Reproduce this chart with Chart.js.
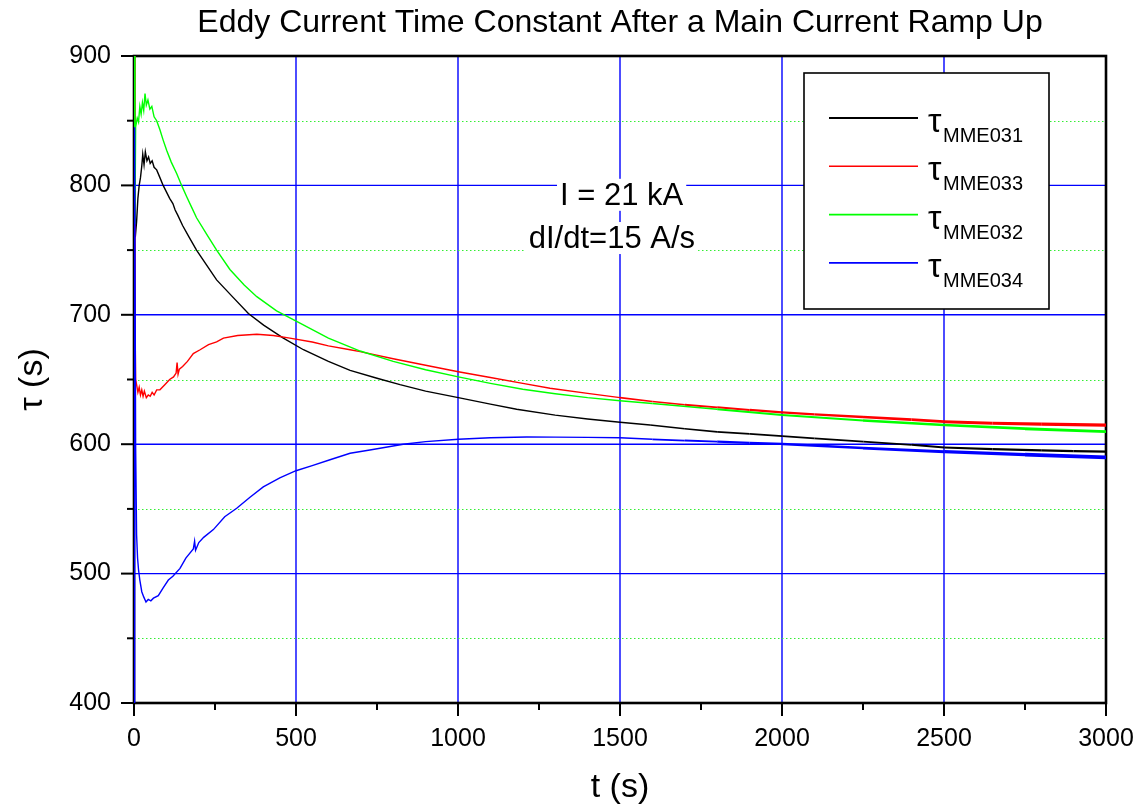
<!DOCTYPE html>
<html>
<head>
<meta charset="utf-8">
<title>Eddy Current Time Constant</title>
<script src="https://cdn.jsdelivr.net/npm/chart.js@4.4.0/dist/chart.umd.min.js"></script>
<style>
  html, body { margin: 0; padding: 0; background: #ffffff; }
  #wrap { width: 1142px; height: 811px; }
</style>
</head>
<body>
<div id="wrap"><canvas id="tauChart" width="1142" height="811"></canvas></div>
<script>
// values: t in s, tau in s
var t_031   = [0, 4, 8, 12, 16, 20, 24, 27, 31, 35, 40, 45, 50, 56, 62, 70, 80, 90, 100, 110, 120, 127, 135, 150, 170, 193, 220, 255, 300, 353, 400, 461, 523, 600, 667, 750, 821, 900, 1001, 1100, 1181, 1300, 1400, 1500, 1593, 1700, 1800, 1900, 2001, 2100, 2251, 2400, 2501, 2650, 2800, 2900, 3000];
var tau_031 = [905, 760, 772, 790, 800, 806, 815, 824, 816, 826, 819, 822, 817, 819, 814, 812, 806, 800, 795, 790, 786, 781, 777, 769, 760, 750, 740, 727, 715, 701, 692, 682, 673, 664, 657, 651, 646, 641, 636, 631, 627, 622.5, 619.5, 617, 614.8, 612, 609.5, 608, 606.3, 604.5, 602, 599.5, 597.5, 596.2, 595.2, 594.7, 594.2];

var t_033   = [0, 3, 5, 8, 12, 16, 20, 24, 28, 32, 38, 44, 50, 56, 62, 70, 80, 95, 110, 122, 130, 133, 136, 140, 150, 165, 183, 204, 230, 255, 276, 320, 379, 430, 481, 550, 600, 667, 698, 800, 900, 1001, 1100, 1200, 1284, 1400, 1500, 1600, 1700, 1800, 1900, 2000, 2100, 2250, 2400, 2500, 2650, 2800, 3000];
var tau_033 = [910, 700, 650, 646, 640, 644, 638, 642, 637, 641, 636, 638, 637, 640, 638, 642, 642, 646, 650, 652, 655, 663, 654, 658, 660, 664, 670, 673, 677, 679, 682, 684, 685, 684, 682, 679, 676, 673, 671.5, 666, 661, 656, 651.5, 647, 643.2, 639.3, 636, 633, 630.5, 628.5, 626.5, 624.6, 623, 621, 619, 617.4, 616.2, 615.5, 614.8];

var t_032   = [0, 3, 5, 10, 14, 18, 22, 26, 30, 34, 38, 43, 49, 55, 62, 70, 80, 90, 101, 115, 132, 147, 163, 178, 193, 225, 255, 296, 340, 379, 440, 502, 600, 698, 800, 900, 1001, 1100, 1200, 1300, 1400, 1500, 1600, 1800, 2000, 2250, 2500, 2750, 3000];
var tau_032 = [910, 770, 845, 852, 849, 861, 855, 864, 858, 871, 862, 866, 859, 861, 853, 850, 843, 835, 827, 818, 809, 800, 791, 783, 775, 762, 750, 735, 723, 714, 703, 695, 682, 672, 664, 657.5, 652, 647, 642.5, 639, 636, 633.6, 631.5, 627, 622.6, 618.3, 614.8, 612, 609.7];

var t_034   = [0, 2, 5, 8, 11, 14, 18, 24, 30, 37, 44, 52, 60, 75, 90, 106, 120, 142, 160, 183, 187, 190, 200, 215, 245, 280, 317, 358, 399, 450, 500, 550, 605, 667, 728, 831, 900, 1001, 1100, 1212, 1300, 1400, 1500, 1600, 1700, 1800, 1900, 2001, 2250, 2501, 2750, 3000];
var tau_034 = [400, 845, 600, 530, 512, 503, 495, 486, 482, 478, 480, 479, 481, 483, 489, 495, 498, 504, 512, 519, 525, 518, 524, 528, 534, 544, 550.5, 559, 567, 574, 579.5, 583.5, 588, 593, 595.5, 600, 602, 603.8, 605, 605.6, 605.5, 605.3, 605, 603.8, 602.8, 602, 601, 600.2, 597, 594.2, 592, 589.9];

var series_names = ['MME031', 'MME033', 'MME032', 'MME034'];
var series_colors = ['#000000', '#ff0000', '#00ff00', '#0000ff'];

// axis ticks
var t_major = [0, 500, 1000, 1500, 2000, 2500, 3000];
var t_minor = [250, 750, 1250, 1750, 2250, 2750];
var tau_major = [400, 500, 600, 700, 800, 900];
var tau_minor = [450, 550, 650, 750, 850];

var notes = ['I = 21 kA', 'dI/dt=15 A/s'];

var FONT = "'Liberation Sans', Arial, Helvetica, sans-serif";

function pairs(ts, vs) {
  var out = [];
  for (var i = 0; i < ts.length; i++) out.push({ x: ts[i], y: vs[i] });
  return out;
}

// noise band gets wider towards the end of the run
function bandWidth(maxW) {
  return function(ctx) {
    var t = ctx.p0.parsed.x;
    if (t < 1400) return 1.4;
    return 1.4 + (maxW - 1.4) * Math.min(1, (t - 1400) / 1600);
  };
}

var all_t = [t_031, t_033, t_032, t_034];
var all_tau = [tau_031, tau_033, tau_032, tau_034];
var band = [2.4, 3.6, 3.2, 4.2];
var draw_order = [3, 2, 1, 0];

var datasets = [];
for (var k = 0; k < 4; k++) {
  datasets.push({
    label: series_names[k],
    data: pairs(all_t[k], all_tau[k]),
    borderColor: series_colors[k],
    borderWidth: 1.4,
    pointRadius: 0,
    fill: false,
    tension: 0,
    order: draw_order[k],
    segment: { borderWidth: bandWidth(band[k]) }
  });
}

var framePlugin = {
  id: 'frame',
  beforeDatasetsDraw: function(chart) {
    var ctx = chart.ctx, a = chart.chartArea;
    var xs = chart.scales.x, ys = chart.scales.y;
    ctx.save();
    // major grid, solid blue
    ctx.strokeStyle = '#0000ff';
    ctx.lineWidth = 1.4;
    tau_major.forEach(function(v) {
      var y = ys.getPixelForValue(v);
      ctx.beginPath(); ctx.moveTo(a.left, y); ctx.lineTo(a.right, y); ctx.stroke();
    });
    t_major.forEach(function(v) {
      var x = xs.getPixelForValue(v);
      ctx.beginPath(); ctx.moveTo(x, a.top); ctx.lineTo(x, a.bottom); ctx.stroke();
    });
    // dotted minor grid
    ctx.strokeStyle = '#33ee33';
    ctx.lineWidth = 1.2;
    ctx.setLineDash([1.5, 2.5]);
    tau_minor.forEach(function(v) {
      var y = Math.round(ys.getPixelForValue(v)) + 0.5;
      ctx.beginPath(); ctx.moveTo(a.left, y); ctx.lineTo(a.right, y); ctx.stroke();
    });
    ctx.setLineDash([]);
    // frame
    ctx.strokeStyle = '#000000';
    ctx.lineWidth = 2.6;
    ctx.strokeRect(a.left, a.top, a.right - a.left, a.bottom - a.top);
    // tick marks
    ctx.lineWidth = 2;
    tau_major.forEach(function(v) {
      var y = ys.getPixelForValue(v);
      ctx.beginPath(); ctx.moveTo(a.left - 13, y); ctx.lineTo(a.left, y); ctx.stroke();
    });
    tau_minor.forEach(function(v) {
      var y = ys.getPixelForValue(v);
      ctx.beginPath(); ctx.moveTo(a.left - 7, y); ctx.lineTo(a.left, y); ctx.stroke();
    });
    t_major.forEach(function(v) {
      var x = xs.getPixelForValue(v);
      ctx.beginPath(); ctx.moveTo(x, a.bottom - 1); ctx.lineTo(x, a.bottom + 13); ctx.stroke();
    });
    t_minor.forEach(function(v) {
      var x = xs.getPixelForValue(v);
      ctx.beginPath(); ctx.moveTo(x, a.bottom); ctx.lineTo(x, a.bottom + 7); ctx.stroke();
    });
    ctx.restore();
  },
  afterDraw: function(chart) {
    var ctx = chart.ctx;
    var xs = chart.scales.x, ys = chart.scales.y;
    ctx.save();

    // text notes with white background
    var notePos = [[1505, 785], [1475, 751.6]];
    ctx.font = '31px ' + FONT;
    ctx.textAlign = 'center';
    ctx.textBaseline = 'alphabetic';
    notes.forEach(function(txt, i) {
      var x = xs.getPixelForValue(notePos[i][0]);
      var y = ys.getPixelForValue(notePos[i][1]);
      var w = ctx.measureText(txt).width;
      ctx.fillStyle = '#ffffff';
      ctx.fillRect(x - w / 2 - 3, y - 26, w + 6, 32);
      ctx.fillStyle = '#000000';
      ctx.fillText(txt, x, y);
    });

    // legend box
    var L = 804, T = 73, W = 245, H = 236;
    ctx.fillStyle = '#ffffff';
    ctx.fillRect(L, T, W, H);
    ctx.strokeStyle = '#000000';
    ctx.lineWidth = 1.6;
    ctx.strokeRect(L, T, W, H);
    chart.data.datasets.forEach(function(ds, i) {
      var y = T + 45 + i * 48.3;
      ctx.strokeStyle = ds.borderColor;
      ctx.lineWidth = i === 0 ? 1.8 : 1.6;
      ctx.beginPath(); ctx.moveTo(L + 25, y); ctx.lineTo(L + 114, y); ctx.stroke();
      ctx.fillStyle = '#000000';
      ctx.textAlign = 'left';
      ctx.font = '34px ' + FONT;
      ctx.fillText('τ', L + 124, y + 14);
      ctx.font = '20px ' + FONT;
      ctx.fillText(ds.label, L + 139, y + 24);
    });
    ctx.restore();
  }
};

function plainLabel(value) { return String(value); }

var ctx = document.getElementById('tauChart').getContext('2d');
var tauChart = new Chart(ctx, {
  type: 'line',
  data: { datasets: datasets },
  options: {
    responsive: false,
    animation: false,
    devicePixelRatio: 1,
    layout: { padding: { left: 0, right: 36, top: 0, bottom: 0 } },
    plugins: {
      legend: { display: false },
      tooltip: { enabled: false },
      title: {
        display: true,
        fullSize: false,
        text: 'Eddy Current Time Constant After a Main Current Ramp Up',
        color: '#000000',
        font: { family: FONT, size: 32, weight: 'normal', lineHeight: 1.2 },
        padding: { top: 4, bottom: 13.6 }
      }
    },
    scales: {
      x: {
        type: 'linear',
        min: 0,
        max: 3000,
        afterFit: function(scale) { scale.height = 108; scale.paddingLeft = 0; scale.paddingRight = 0; },
        afterBuildTicks: function(scale) { scale.ticks = t_major.map(function(v) { return { value: v }; }); },
        ticks: { color: '#000000', font: { family: FONT, size: 25 }, padding: 13, maxRotation: 0, callback: plainLabel },
        grid: { display: false },
        border: { display: false },
        title: { display: true, text: 't (s)', color: '#000000', font: { family: FONT, size: 34 }, padding: { top: 0, bottom: 3 } }
      },
      y: {
        type: 'linear',
        min: 400,
        max: 900,
        afterFit: function(scale) { scale.width = 134; scale.paddingTop = 0; scale.paddingBottom = 0; },
        afterBuildTicks: function(scale) { scale.ticks = tau_major.map(function(v) { return { value: v }; }); },
        ticks: { color: '#000000', font: { family: FONT, size: 25 }, padding: 15, callback: plainLabel },
        grid: { display: false },
        border: { display: false },
        title: { display: true, text: 'τ (s)', color: '#000000', font: { family: FONT, size: 34 }, padding: { top: 12, bottom: 0 } }
      }
    }
  },
  plugins: [framePlugin]
});
</script>
</body>
</html>
